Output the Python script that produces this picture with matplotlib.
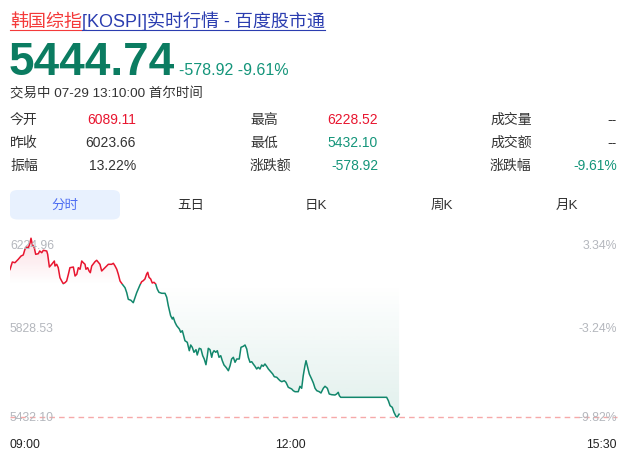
import numpy as np
import matplotlib
matplotlib.use("Agg")
import matplotlib.pyplot as plt
from matplotlib.patches import Rectangle, FancyBboxPatch
from matplotlib.lines import Line2D

plt.rcParams['font.family'] = ['Liberation Sans', 'Noto Sans CJK SC', 'DejaVu Sans']

# --- Data (minutes after 09:00, index level) ---
minutes = [0, 1.5, 3.2, 5.3, 7.1, 8.5, 9.6, 10.7, 11.8, 12.9,
           13.5, 14.3, 15.6, 16.5, 18.2, 19.1, 20.4, 21.4, 23.6, 24.2,
           25.3, 26.8, 28.5, 28.9, 30.0, 31.0, 32.1, 33.2, 34.2, 35.3,
           36.4, 37.5, 38.5, 40.7, 41.8, 42.9, 43.9, 45.0, 46.1, 47.1,
           48.2, 48.8, 49.9, 50.8, 51.6, 52.5, 54.6, 55.7, 57.8, 58.9,
           61.0, 63.2, 65.3, 66.4, 67.5, 68.6, 69.6, 70.7, 72.2, 73.9,
           75.0, 76.0, 77.7, 79.2, 80.3, 81.4, 83.5, 84.6, 85.6, 86.7,
           87.8, 88.5, 89.3, 90.4, 91.4, 92.5, 93.6, 94.6, 95.7, 97.5,
           99.6, 100.7, 101.7, 103.2, 104.3, 104.9, 106.0, 107.1, 108.8, 109.7,
           110.7, 111.3, 112.4, 113.9, 115.2, 116.1, 117.1, 118.2, 119.5, 120.3,
           121.6, 122.7, 123.8, 124.8, 125.9, 126.8, 127.4, 128.5, 129.6, 130.2,
           131.1, 132.2, 133.2, 134.3, 135.4, 136.4, 137.5, 138.8, 140.3, 141.4,
           142.4, 143.5, 144.6, 145.7, 147.3, 148.4, 149.9, 151.0, 152.1, 153.1,
           154.2, 155.3, 156.3, 157.4, 158.5, 159.5, 160.6, 161.7, 162.7, 163.8,
           164.9, 166.0, 167.5, 168.8, 169.8, 171.4, 172.4, 173.5, 174.6, 176.2,
           177.3, 178.8, 181.0, 182.0, 183.1, 185.2, 186.3, 187.4, 188.4, 189.5,
           190.2, 191.0, 192.3, 193.8, 194.9, 196.0, 197.1, 198.7, 199.8, 201.3,
           202.4, 203.9, 205.1, 206.7, 208.8, 209.9, 210.9, 211.6, 212.5, 242.0,
           243.1, 244.2, 245.6, 246.7, 248.0, 248.8, 250.0]
prices = [6089.1, 6122.5, 6119.4, 6134.5, 6149.2, 6153.7, 6179.1, 6189.3, 6186.2, 6208.5,
          6228.5, 6201.4, 6186.2, 6156.8, 6159.5, 6171.5, 6163.9, 6174.6, 6171.5, 6156.8,
          6100.2, 6112.3, 6127.0, 6104.7, 6112.3, 6097.1, 6052.6, 6037.9, 6026.0, 6030.3,
          6037.9, 6067.7, 6097.1, 6100.2, 6060.2, 6067.7, 6097.1, 6090.0, 6127.0, 6119.4,
          6112.3, 6090.0, 6097.1, 6082.4, 6074.9, 6104.7, 6123.8, 6130.1, 6112.3, 6082.4,
          6097.1, 6112.3, 6112.3, 6116.7, 6104.7, 6090.0, 6067.7, 6037.9, 6023.2, 6008.0,
          5985.8, 5956.4, 5951.9, 5941.2, 5963.5, 5985.8, 6020.0, 6034.8, 6039.2, 6046.8,
          6069.1, 6076.6, 6054.4, 6046.8, 6029.0, 6032.1, 6024.5, 6002.2, 5987.5, 5983.1,
          5983.1, 5965.3, 5927.9, 5883.3, 5868.6, 5876.2, 5853.9, 5838.8, 5824.1, 5809.4,
          5816.5, 5801.8, 5771.9, 5764.8, 5727.4, 5752.8, 5742.6, 5720.3, 5732.0, 5708.3,
          5738.1, 5735.0, 5705.2, 5690.4, 5665.0, 5705.2, 5738.1, 5731.9, 5698.0, 5717.2,
          5727.4, 5720.3, 5727.4, 5698.0, 5705.2, 5682.9, 5663.7, 5653.5, 5638.3, 5660.6,
          5690.4, 5698.0, 5675.8, 5690.4, 5690.4, 5742.6, 5747.0, 5752.8, 5735.0, 5698.0,
          5675.8, 5678.4, 5668.2, 5658.0, 5645.9, 5653.5, 5645.9, 5663.7, 5658.0, 5668.2,
          5658.0, 5645.9, 5633.9, 5623.6, 5611.6, 5609.0, 5601.4, 5593.8, 5589.3, 5593.8,
          5586.7, 5564.4, 5556.8, 5549.3, 5544.8, 5544.8, 5568.9, 5560.0, 5616.1, 5660.6,
          5682.9, 5660.6, 5623.6, 5601.4, 5583.6, 5560.0, 5549.3, 5544.8, 5539.0, 5560.0,
          5568.9, 5560.0, 5534.6, 5531.4, 5530.1, 5534.6, 5542.1, 5527.0, 5519.8, 5519.8,
          5504.7, 5482.4, 5475.3, 5453.0, 5435.0, 5432.1, 5444.7]

prev_close = 6023.66
axis_top = 6224.96
axis_bottom = 5432.10
session_minutes = 390  # 09:00 - 15:30
x_labels = ['09:00', '12:00', '15:30']
x_label_minutes = [0, 180, 390]

stats = [  # (label, value, column, row, colour key)
    ('今开', '6089.11', 0, 0, 'up'), ('昨收', '6023.66', 0, 1, 'flat'), ('振幅', '13.22%', 0, 2, 'flat'),
    ('最高', '6228.52', 1, 0, 'up'), ('最低', '5432.10', 1, 1, 'down'), ('涨跌额', '-578.92', 1, 2, 'down'),
    ('成交量', '--', 2, 0, 'flat'), ('成交额', '--', 2, 1, 'flat'), ('涨跌幅', '-9.61%', 2, 2, 'down'),
]
tabs = ['分时', '五日', '日K', '周K', '月K']

RED = '#e8152f'
GREEN = '#12876c'
GREEN_TXT = '#14957a'
DARK = '#333333'
GREY = '#b4b7bd'

W, H = 641, 460
fig = plt.figure(figsize=(W / 100, H / 100), dpi=100)


def px(x, y):
    return x / W, 1 - y / H


# --- Header ---
t1 = fig.text(*px(10, 27), '韩国综指', color='#f43a3a', fontsize=13, va='baseline')
fig.canvas.draw()
r = fig.canvas.get_renderer()
bb1 = t1.get_window_extent(r)
t2 = fig.text(bb1.x1 / W, 1 - 27 / H, '[KOSPI]实时行情 - 百度股市通', color='#2b3db0',
              fontsize=13, va='baseline')
fig.canvas.draw()
bb2 = t2.get_window_extent(r)
uy = 1 - 31 / H
fig.add_artist(Line2D([bb1.x0 / W, bb1.x1 / W], [uy, uy], color='#f43a3a', lw=0.8))
fig.add_artist(Line2D([bb2.x0 / W, bb2.x1 / W], [uy, uy], color='#2b3db0', lw=0.8))

fig.text(*px(9, 75), '5444.74', color='#0b7c61', fontsize=33, fontweight='bold', va='baseline')
fig.text(*px(179, 75), '-578.92 -9.61%', color=GREEN_TXT, fontsize=11.5, va='baseline')
fig.text(*px(10, 94), '交易中 07-29 13:10:00 首尔时间', color=DARK, fontsize=9.7, va='center')

# --- Stats table ---
colours = {'up': RED, 'down': GREEN_TXT, 'flat': DARK}
label_x = [10, 250, 490]
value_x = [136, 378, 617]
row_y = [120, 143, 166]
for label, value, c, rw, key in stats:
    fig.text(*px(label_x[c], row_y[rw]), label, color=DARK, fontsize=10, va='center')
    fig.text(*px(value_x[c], row_y[rw]), value, color=colours[key], fontsize=10,
             va='center', ha='right')

# --- Tabs ---
fig.add_artist(FancyBboxPatch(px(10, 220.5), 110 / W, 29.5 / H,
                              boxstyle='round,pad=0,rounding_size=0.012',
                              transform=fig.transFigure, fc='#e8f1fe', ec='none'))
for i, name in enumerate(tabs):
    fig.text(*px(65 + 125.5 * i, 206), name, ha='center', va='center', fontsize=9.7,
             color='#4e6ef2' if i == 0 else DARK)

# --- Intraday chart ---
ax = fig.add_axes([10 / W, 1 - 418 / H, 607 / W, 178 / H])
ax.set_xlim(0, session_minutes)
ax.set_ylim(axis_bottom, axis_top)
ax.axis('off')

fill = ax.fill_between(minutes, prices, prev_close, color='none', lw=0)
clip = fill.get_paths()[0]

red_grad = np.zeros((256, 1, 4))
red_grad[..., :3] = matplotlib.colors.to_rgb('#ec1c3a')
red_grad[:, 0, 3] = np.linspace(0.0, 0.16, 256)
im_r = ax.imshow(red_grad, extent=(0, session_minutes, prev_close, axis_top + 10),
                 origin='lower', aspect='auto', zorder=1)
im_r.set_clip_path(clip, ax.transData)

green_grad = np.zeros((256, 1, 4))
green_grad[..., :3] = matplotlib.colors.to_rgb('#1a8a70')
green_grad[:, 0, 3] = np.linspace(0.13, 0.0, 256)
im_g = ax.imshow(green_grad, extent=(0, session_minutes, axis_bottom, prev_close),
                 origin='lower', aspect='auto', zorder=1)
im_g.set_clip_path(clip, ax.transData)
ax.set_xlim(0, session_minutes)
ax.set_ylim(axis_bottom, axis_top)

up_line, = ax.plot(minutes, prices, color=RED, lw=1.1, zorder=3)
up_line.set_clip_path(Rectangle((0, prev_close), session_minutes, 1000, transform=ax.transData))
dn_line, = ax.plot(minutes, prices, color=GREEN, lw=1.1, zorder=3)
dn_line.set_clip_path(Rectangle((0, prev_close - 1000), session_minutes, 1000,
                                transform=ax.transData))

ax.axhline(axis_bottom, color='#f6a9a9', lw=1, ls=(0, (4, 3)), zorder=2, clip_on=False)

mid = (axis_top + axis_bottom) / 2
for val, va in [(axis_top, 'top'), (mid, 'center'), (axis_bottom, 'center')]:
    ax.text(0, val, f'{val:.2f}', color=GREY, fontsize=8.8, va=va, ha='left', zorder=4)
    pct = (val / prev_close - 1) * 100
    ax.text(session_minutes, val, f'{pct:.2f}%', color=GREY, fontsize=8.8, va=va,
            ha='right', zorder=4)

for lab, m, ha in zip(x_labels, x_label_minutes, ['left', 'center', 'right']):
    ax.text(m, -0.15, lab, transform=ax.get_xaxis_transform(), ha=ha, va='center',
            fontsize=8.8, color='#222222')

fig.savefig('out.png', dpi=100)
